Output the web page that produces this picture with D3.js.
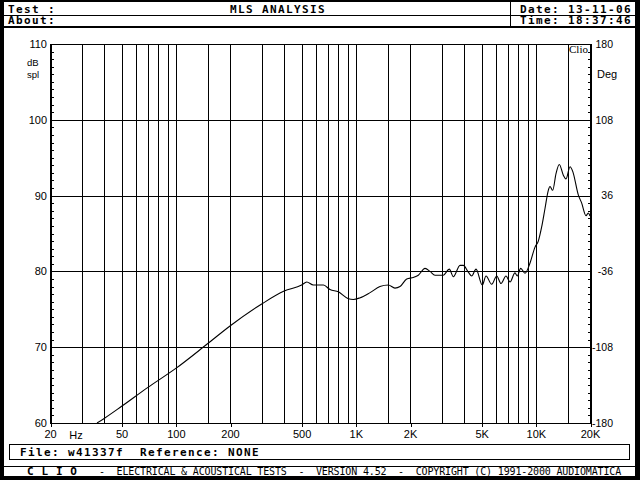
<!DOCTYPE html>
<html>
<head>
<meta charset="utf-8">
<script src="https://cdn.jsdelivr.net/npm/d3@7"></script>
<style>
  html, body { margin: 0; padding: 0; background: #fff; }
  svg { display: block; }
  .mono { font-family: "DejaVu Sans Mono", "Liberation Mono", monospace; }
  .lbl { font-family: "Liberation Sans", Arial, sans-serif; font-size: 11px; fill: #000; }
</style>
</head>
<body>
<svg id="chart" width="640" height="480"></svg>
<script>
// ---- data ----
const freqs = [36.5, 40, 50, 70, 100, 150, 200, 300, 400, 500, 534, 581, 661, 719, 800, 909, 968, 1050, 1200,
  1362, 1515, 1650, 1760, 1918, 2087, 2224, 2424, 2585, 2754, 3062, 3306, 3481, 3793, 3956, 4218, 4405,
  4654, 5044, 5288, 5688, 6064, 6406, 6830, 7188, 7662, 7892, 8242, 8708, 9284, 9898, 10324, 10784,
  11247, 11732, 11990, 12412, 12948, 13506, 14216, 14713, 15488, 16032, 17219, 17984, 19004, 19571, 20000];
const splValues = [60.0, 60.6, 62.2, 64.7, 67.2, 70.45, 72.8, 75.7, 77.4, 78.2, 78.6, 78.2, 78.2, 77.6, 77.3, 76.4, 76.3, 76.5, 77.2,
  78.0, 78.2, 77.8, 78.0, 79.0, 79.2, 79.5, 80.4, 80.0, 79.5, 79.5, 80.3, 79.3, 80.8, 80.8, 79.9, 79.4,
  80.3, 78.2, 79.4, 78.3, 79.4, 78.4, 79.4, 78.6, 79.8, 79.4, 80.4, 79.75, 81.1, 83.2, 84.0, 85.9,
  88.3, 90.7, 91.2, 90.7, 92.9, 94.1, 92.7, 92.2, 93.8, 93.2, 90.1, 89.0, 87.35, 87.7, 87.3];

const xTickValues = [20, 50, 100, 200, 500, 1000, 2000, 5000, 10000, 20000];
const xTickLabels = ["20", "50", "100", "200", "500", "1K", "2K", "5K", "10K", "20K"];
const gridFreqs = [30, 40, 50, 60, 70, 80, 90, 100, 150, 200, 300, 400, 500, 600, 700, 800, 900, 1000,
  1500, 2000, 3000, 4000, 5000, 6000, 7000, 8000, 9000, 10000, 15000];
const dbTicks = [60, 70, 80, 90, 100, 110];
const degTicks = [-180, -108, -36, 36, 108, 180];

const headerTitle = "MLS ANALYSIS";
const headerTest = "Test :";
const headerAbout = "About:";
const headerDate = "Date: 13-11-06";
const headerTime = "Time: 18:37:46";
const fileLine = "File: w41337f  Reference: NONE";
const footerBrand = "C L I O";
const footerRest = "-  ELECTRICAL & ACOUSTICAL TESTS  -  VERSION 4.52  -  COPYRIGHT (C) 1991-2000 AUDIOMATICA";

// ---- layout ----
const L = 50, R = 590, T = 44, B = 423;
const svg = d3.select("#chart");

// outer frame
svg.append("rect").attr("x", 0).attr("y", 0).attr("width", 640).attr("height", 480).attr("fill", "#000");
svg.append("rect").attr("x", 4).attr("y", 2).attr("width", 631).attr("height", 474).attr("fill", "#fff");

// header
svg.append("line").attr("x1", 4).attr("x2", 635).attr("y1", 15.5).attr("y2", 15.5).attr("stroke", "#000");
svg.append("rect").attr("x", 4).attr("y", 26).attr("width", 631).attr("height", 2).attr("fill", "#000");
svg.append("line").attr("x1", 510.5).attr("x2", 510.5).attr("y1", 2).attr("y2", 26).attr("stroke", "#000");

function monoText(txt, x, y, opts) {
  const o = Object.assign({size: 11, weight: "bold", spacing: 1.38}, opts || {});
  return svg.append("text").attr("class", "mono").attr("x", x).attr("y", y)
    .attr("font-size", o.size + "px").attr("font-weight", o.weight)
    .attr("letter-spacing", o.spacing + "px").attr("fill", "#000")
    .attr("xml:space", "preserve").style("white-space", "pre").text(txt);
}
monoText(headerTest, 8, 12.5);
monoText(headerAbout, 8, 24);
monoText(headerTitle, 230, 12.5);
monoText(headerDate, 520, 12.5);
monoText(headerTime, 520, 24);

// file box
svg.append("rect").attr("x", 9.5).attr("y", 444.5).attr("width", 620).attr("height", 15)
  .attr("fill", "none").attr("stroke", "#000");
monoText(fileLine, 20, 456);

// footer
svg.append("line").attr("x1", 4).attr("x2", 635).attr("y1", 466.5).attr("y2", 466.5).attr("stroke", "#000");
monoText(footerBrand, 27, 475, {spacing: 0.6});
monoText(footerRest, 99, 475, {size: 10, weight: "normal", spacing: -0.15})
  .attr("textLength", 522).attr("lengthAdjust", "spacing");

// ---- scales ----
const x = d3.scaleLog().domain([20, 20000]).range([L, R]);
const y = d3.scaleLinear().domain([60, 110]).range([B, T]);
const yDeg = d3.scaleLinear().domain([-180, 180]).range([B, T]);

const g = svg.append("g");

// grid
g.selectAll("line.vg").data(gridFreqs).enter().append("line")
  .attr("x1", d => Math.round(x(d)) + 0.5).attr("x2", d => Math.round(x(d)) + 0.5)
  .attr("y1", T).attr("y2", B).attr("stroke", "#000").attr("stroke-width", 1)
  .attr("shape-rendering", "crispEdges");
g.selectAll("line.hg").data(dbTicks.filter(d => d > 60 && d < 110)).enter().append("line")
  .attr("x1", L).attr("x2", R).attr("y1", d => Math.round(y(d)) + 0.5).attr("y2", d => Math.round(y(d)) + 0.5)
  .attr("stroke", "#000").attr("stroke-width", 1).attr("shape-rendering", "crispEdges");

// minor ticks (1 dB)
const minor = d3.range(60, 111, 1);
g.selectAll("line.ml").data(minor).enter().append("line")
  .attr("x1", L + 2).attr("x2", L + 4).attr("y1", d => Math.round(y(d)) + 0.5).attr("y2", d => Math.round(y(d)) + 0.5)
  .attr("stroke", "#000").attr("shape-rendering", "crispEdges");
g.selectAll("line.mr").data(minor).enter().append("line")
  .attr("x1", R - 2).attr("x2", R).attr("y1", d => Math.round(y(d)) + 0.5).attr("y2", d => Math.round(y(d)) + 0.5)
  .attr("stroke", "#000").attr("shape-rendering", "crispEdges");

// curve
svg.append("clipPath").attr("id", "clip").append("rect")
  .attr("x", L).attr("y", T).attr("width", R - L).attr("height", B - T);
const pts = freqs.map((f, i) => [f, splValues[i]]);
const line = d3.line().x(d => x(d[0])).y(d => y(d[1])).curve(d3.curveMonotoneX);
g.append("path").datum(pts).attr("d", line).attr("fill", "none").attr("stroke", "#000")
  .attr("stroke-width", 1.1).attr("clip-path", "url(#clip)");

// plot frame
g.append("line").attr("x1", L).attr("x2", R + 2).attr("y1", T + 0.5).attr("y2", T + 0.5).attr("stroke", "#000").attr("shape-rendering", "crispEdges");
g.append("line").attr("x1", L).attr("x2", R + 2).attr("y1", B + 0.5).attr("y2", B + 0.5).attr("stroke", "#000").attr("shape-rendering", "crispEdges");
g.append("rect").attr("x", L).attr("y", T).attr("width", 2).attr("height", B - T + 1).attr("fill", "#000");
g.append("rect").attr("x", R).attr("y", T).attr("width", 2).attr("height", B - T + 1).attr("fill", "#000");

// x axis
const xAxis = d3.axisBottom(x).tickValues(xTickValues).tickFormat((d, i) => xTickLabels[i])
  .tickSize(4).tickPadding(3);
const gx = svg.append("g").attr("transform", `translate(0,${B})`).call(xAxis);
gx.select(".domain").remove();
gx.selectAll(".tick line").attr("stroke", "#000").attr("shape-rendering", "crispEdges")
  .attr("transform", "translate(0.5,0)");
gx.selectAll(".tick text").attr("class", "lbl").attr("font-size", null).attr("font-family", null);
svg.append("text").attr("class", "lbl").attr("x", 76).attr("y", 438.5).attr("text-anchor", "middle").text("Hz");

// left axis
const yAxis = d3.axisLeft(y).tickValues(dbTicks).tickSize(0).tickPadding(3).tickFormat(d => String(d));
const gy = svg.append("g").attr("transform", `translate(${L},0)`).call(yAxis);
gy.select(".domain").remove();
gy.selectAll(".tick text").attr("class", "lbl").attr("font-size", null).attr("font-family", null);

// right axis
const yAxisR = d3.axisRight(yDeg).tickValues(degTicks).tickSize(0).tickPadding(23).tickFormat(d => String(d));
const gyr = svg.append("g").attr("transform", `translate(${R},0)`).call(yAxisR);
gyr.select(".domain").remove();
gyr.selectAll(".tick text").attr("class", "lbl").attr("font-family", null)
  .attr("font-size", null).style("font-size", "10.5px").attr("text-anchor", "end");

// unit labels
svg.append("text").attr("class", "lbl").attr("x", 27).attr("y", 66).style("font-size", "9.5px").text("dB");
svg.append("text").attr("class", "lbl").attr("x", 27).attr("y", 77.5).style("font-size", "9.5px").text("spl");
svg.append("text").attr("class", "lbl").attr("x", 597).attr("y", 77.5).text("Deg");
svg.append("text").attr("x", 569).attr("y", 52.5).attr("font-family", "Liberation Serif, serif")
  .attr("font-size", "11px").attr("fill", "#000").text("Clio");
</script>
</body>
</html>
